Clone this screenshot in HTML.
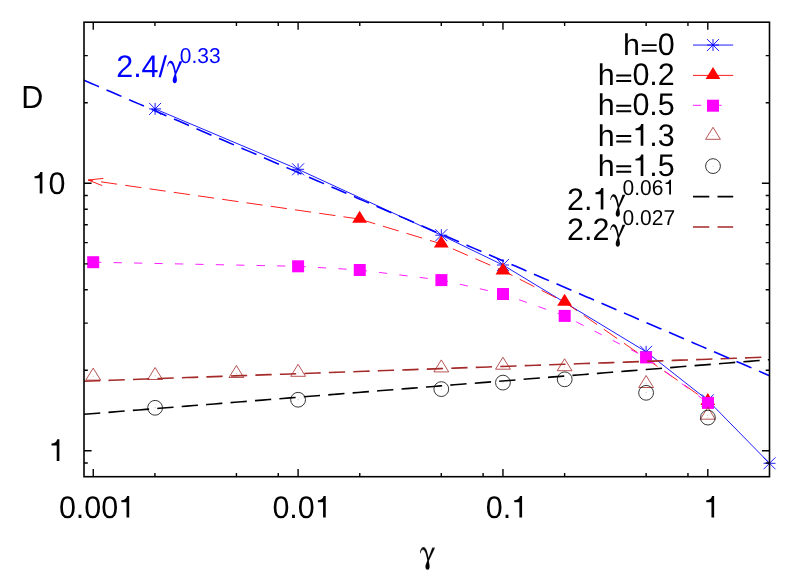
<!DOCTYPE html>
<html><head><meta charset="utf-8"><title>D vs gamma</title>
<style>html,body{margin:0;padding:0;background:#fff;}svg{display:block;}text{font-family:"Liberation Sans", sans-serif;font-kerning:none;text-rendering:geometricPrecision;}</style></head><body>
<svg width="789" height="574" viewBox="0 0 789 574">
<rect x="0" y="0" width="789" height="574" fill="#ffffff"/>
<g opacity="0.999">
<polyline points="155.1,108.9 298.1,169.3 441.3,235.2 502.95,265 646.1,351.8 707.8,400.3 769.5,463.3" fill="none" stroke="#0000ff" stroke-width="0.9"/>
<path d="M149.1,108.9 h12 M155.1,102.9 v12 M149.1,102.9 l12,12 M149.1,114.9 l12,-12" stroke="#0000ff" stroke-width="0.9" fill="none"/>
<path d="M292.1,169.3 h12 M298.1,163.3 v12 M292.1,163.3 l12,12 M292.1,175.3 l12,-12" stroke="#0000ff" stroke-width="0.9" fill="none"/>
<path d="M435.3,235.2 h12 M441.3,229.2 v12 M435.3,229.2 l12,12 M435.3,241.2 l12,-12" stroke="#0000ff" stroke-width="0.9" fill="none"/>
<path d="M496.95,265 h12 M502.95,259 v12 M496.95,259 l12,12 M496.95,271 l12,-12" stroke="#0000ff" stroke-width="0.9" fill="none"/>
<path d="M640.1,351.8 h12 M646.1,345.8 v12 M640.1,345.8 l12,12 M640.1,357.8 l12,-12" stroke="#0000ff" stroke-width="0.9" fill="none"/>
<path d="M701.8,400.3 h12 M707.8,394.3 v12 M701.8,394.3 l12,12 M701.8,406.3 l12,-12" stroke="#0000ff" stroke-width="0.9" fill="none"/>
<path d="M763.5,463.3 h12 M769.5,457.3 v12 M763.5,457.3 l12,12 M763.5,469.3 l12,-12" stroke="#0000ff" stroke-width="0.9" fill="none"/>
<polyline points="359.6,219.1 441.3,243.9 502.95,270.7 564.6,302.1 707.8,401.3" fill="none" stroke="#ff0000" stroke-width="0.9" stroke-dasharray="16.3 8.2"/>
<path d="M359.6,210.81 l-7.4,11.99 h14.8 Z" fill="#ff0000"/>
<path d="M441.3,235.61 l-7.4,11.99 h14.8 Z" fill="#ff0000"/>
<path d="M502.95,262.41 l-7.4,11.99 h14.8 Z" fill="#ff0000"/>
<path d="M564.6,293.81 l-7.4,11.99 h14.8 Z" fill="#ff0000"/>
<path d="M707.8,393.01 l-7.4,11.99 h14.8 Z" fill="#ff0000"/>
<path d="M359.6,219.1 L88.2,180" fill="none" stroke="#ff0000" stroke-width="0.9" stroke-dasharray="16.3 8.2"/>
<path d="M103.4,178.4 L88.2,180 L102.2,185.6" fill="none" stroke="#ff0000" stroke-width="0.9"/>
<polyline points="93.2,262.2 298.1,266.3 359.75,270 441.4,280.1 503,294 564.7,315.9 646.05,357.4 708,402.9" fill="none" stroke="#ff00ff" stroke-width="0.9" stroke-dasharray="8.2 12.24"/>
<rect x="87.2" y="256.2" width="12" height="12" fill="#ff00ff"/>
<rect x="292.1" y="260.3" width="12" height="12" fill="#ff00ff"/>
<rect x="353.75" y="264" width="12" height="12" fill="#ff00ff"/>
<rect x="435.4" y="274.1" width="12" height="12" fill="#ff00ff"/>
<rect x="497" y="288" width="12" height="12" fill="#ff00ff"/>
<rect x="558.7" y="309.9" width="12" height="12" fill="#ff00ff"/>
<rect x="640.05" y="351.4" width="12" height="12" fill="#ff00ff"/>
<rect x="702" y="396.9" width="12" height="12" fill="#ff00ff"/>
<path d="M93.2,368.11 l-7.4,11.99 h14.8 Z" fill="none" stroke="#a52a2a" stroke-width="0.8"/>
<circle cx="93.2" cy="376.4" r="0.45" fill="#a52a2a" opacity="0.6"/>
<path d="M155.1,367.51 l-7.4,11.99 h14.8 Z" fill="none" stroke="#a52a2a" stroke-width="0.8"/>
<circle cx="155.1" cy="375.8" r="0.45" fill="#a52a2a" opacity="0.6"/>
<path d="M236.4,365.51 l-7.4,11.99 h14.8 Z" fill="none" stroke="#a52a2a" stroke-width="0.8"/>
<circle cx="236.4" cy="373.8" r="0.45" fill="#a52a2a" opacity="0.6"/>
<path d="M298.1,364.31 l-7.4,11.99 h14.8 Z" fill="none" stroke="#a52a2a" stroke-width="0.8"/>
<circle cx="298.1" cy="372.6" r="0.45" fill="#a52a2a" opacity="0.6"/>
<path d="M441.3,359.91 l-7.4,11.99 h14.8 Z" fill="none" stroke="#a52a2a" stroke-width="0.8"/>
<circle cx="441.3" cy="368.2" r="0.45" fill="#a52a2a" opacity="0.6"/>
<path d="M502.95,357.21 l-7.4,11.99 h14.8 Z" fill="none" stroke="#a52a2a" stroke-width="0.8"/>
<circle cx="502.95" cy="365.5" r="0.45" fill="#a52a2a" opacity="0.6"/>
<path d="M564.6,358.71 l-7.4,11.99 h14.8 Z" fill="none" stroke="#a52a2a" stroke-width="0.8"/>
<circle cx="564.6" cy="367" r="0.45" fill="#a52a2a" opacity="0.6"/>
<path d="M646.1,375.51 l-7.4,11.99 h14.8 Z" fill="none" stroke="#a52a2a" stroke-width="0.8"/>
<circle cx="646.1" cy="383.8" r="0.45" fill="#a52a2a" opacity="0.6"/>
<path d="M707.8,407.21 l-7.4,11.99 h14.8 Z" fill="none" stroke="#a52a2a" stroke-width="0.8"/>
<circle cx="707.8" cy="415.5" r="0.45" fill="#a52a2a" opacity="0.6"/>
<circle cx="155.1" cy="407.8" r="7.4" fill="none" stroke="#000" stroke-width="0.8"/>
<circle cx="155.1" cy="407.8" r="0.45" fill="#000" opacity="0.5"/>
<circle cx="298.1" cy="399.75" r="7.4" fill="none" stroke="#000" stroke-width="0.8"/>
<circle cx="298.1" cy="399.75" r="0.45" fill="#000" opacity="0.5"/>
<circle cx="441.3" cy="389.1" r="7.4" fill="none" stroke="#000" stroke-width="0.8"/>
<circle cx="441.3" cy="389.1" r="0.45" fill="#000" opacity="0.5"/>
<circle cx="502.95" cy="382.6" r="7.4" fill="none" stroke="#000" stroke-width="0.8"/>
<circle cx="502.95" cy="382.6" r="0.45" fill="#000" opacity="0.5"/>
<circle cx="564.7" cy="379.3" r="7.4" fill="none" stroke="#000" stroke-width="0.8"/>
<circle cx="564.7" cy="379.3" r="0.45" fill="#000" opacity="0.5"/>
<circle cx="646.1" cy="392.8" r="7.4" fill="none" stroke="#000" stroke-width="0.8"/>
<circle cx="646.1" cy="392.8" r="0.45" fill="#000" opacity="0.5"/>
<circle cx="707.9" cy="417.6" r="7.4" fill="none" stroke="#000" stroke-width="0.8"/>
<circle cx="707.9" cy="417.6" r="0.45" fill="#000" opacity="0.5"/>
<polyline points="84,414.31 90.86,413.76 97.71,413.21 104.56,412.67 111.42,412.12 118.28,411.57 125.13,411.03 131.99,410.48 138.84,409.94 145.69,409.39 152.55,408.84 159.41,408.3 166.26,407.75 173.12,407.21 179.97,406.66 186.82,406.11 193.68,405.57 200.53,405.02 207.39,404.48 214.25,403.93 221.1,403.38 227.96,402.84 234.81,402.29 241.66,401.74 248.52,401.2 255.38,400.65 262.23,400.11 269.09,399.56 275.94,399.01 282.79,398.47 289.65,397.92 296.5,397.38 303.36,396.83 310.22,396.28 317.07,395.74 323.93,395.19 330.78,394.65 337.63,394.1 344.49,393.55 351.35,393.01 358.2,392.46 365.06,391.91 371.91,391.37 378.76,390.82 385.62,390.28 392.48,389.73 399.33,389.18 406.19,388.64 413.04,388.09 419.89,387.55 426.75,387 433.61,386.45 440.46,385.91 447.31,385.36 454.17,384.82 461.02,384.27 467.88,383.72 474.74,383.18 481.59,382.63 488.44,382.08 495.3,381.54 502.15,380.99 509.01,380.45 515.87,379.9 522.72,379.35 529.58,378.81 536.43,378.26 543.29,377.72 550.14,377.17 557,376.62 563.85,376.08 570.7,375.53 577.56,374.99 584.41,374.44 591.27,373.89 598.12,373.35 604.98,372.8 611.84,372.25 618.69,371.71 625.54,371.16 632.4,370.62 639.25,370.07 646.11,369.52 652.97,368.98 659.82,368.43 666.67,367.89 673.53,367.34 680.38,366.79 687.24,366.25 694.1,365.7 700.95,365.16 707.8,364.61 714.66,364.06 721.51,363.52 728.37,362.97 735.23,362.42 742.08,361.88 748.93,361.33 755.79,360.79 762.64,360.24 769.5,359.69" fill="none" stroke="#000" stroke-width="1.6" stroke-dasharray="16.3 8.2"/>
<polyline points="84,381.2 90.86,380.96 97.71,380.72 104.56,380.47 111.42,380.23 118.28,379.99 125.13,379.75 131.99,379.51 138.84,379.27 145.69,379.02 152.55,378.78 159.41,378.54 166.26,378.3 173.12,378.06 179.97,377.82 186.82,377.57 193.68,377.33 200.53,377.09 207.39,376.85 214.25,376.61 221.1,376.37 227.96,376.12 234.81,375.88 241.66,375.64 248.52,375.4 255.38,375.16 262.23,374.92 269.09,374.67 275.94,374.43 282.79,374.19 289.65,373.95 296.5,373.71 303.36,373.46 310.22,373.22 317.07,372.98 323.93,372.74 330.78,372.5 337.63,372.26 344.49,372.01 351.35,371.77 358.2,371.53 365.06,371.29 371.91,371.05 378.76,370.81 385.62,370.56 392.48,370.32 399.33,370.08 406.19,369.84 413.04,369.6 419.89,369.36 426.75,369.11 433.61,368.87 440.46,368.63 447.31,368.39 454.17,368.15 461.02,367.91 467.88,367.66 474.74,367.42 481.59,367.18 488.44,366.94 495.3,366.7 502.15,366.45 509.01,366.21 515.87,365.97 522.72,365.73 529.58,365.49 536.43,365.25 543.29,365 550.14,364.76 557,364.52 563.85,364.28 570.7,364.04 577.56,363.8 584.41,363.55 591.27,363.31 598.12,363.07 604.98,362.83 611.84,362.59 618.69,362.35 625.54,362.1 632.4,361.86 639.25,361.62 646.11,361.38 652.97,361.14 659.82,360.9 666.67,360.65 673.53,360.41 680.38,360.17 687.24,359.93 694.1,359.69 700.95,359.44 707.8,359.2 714.66,358.96 721.51,358.72 728.37,358.48 735.23,358.24 742.08,357.99 748.93,357.75 755.79,357.51 762.64,357.27 769.5,357.03" fill="none" stroke="#a52a2a" stroke-width="1.6" stroke-dasharray="16.3 8.2"/>
<polyline points="84,80.23 90.86,83.18 97.71,86.14 104.56,89.09 111.42,92.05 118.28,95 125.13,97.96 131.99,100.91 138.84,103.86 145.69,106.82 152.55,109.77 159.41,112.73 166.26,115.68 173.12,118.64 179.97,121.59 186.82,124.54 193.68,127.5 200.53,130.45 207.39,133.41 214.25,136.36 221.1,139.32 227.96,142.27 234.81,145.23 241.66,148.18 248.52,151.13 255.38,154.09 262.23,157.04 269.09,160 275.94,162.95 282.79,165.91 289.65,168.86 296.5,171.81 303.36,174.77 310.22,177.72 317.07,180.68 323.93,183.63 330.78,186.59 337.63,189.54 344.49,192.5 351.35,195.45 358.2,198.4 365.06,201.36 371.91,204.31 378.76,207.27 385.62,210.22 392.48,213.18 399.33,216.13 406.19,219.08 413.04,222.04 419.89,224.99 426.75,227.95 433.61,230.9 440.46,233.86 447.31,236.81 454.17,239.77 461.02,242.72 467.88,245.67 474.74,248.63 481.59,251.58 488.44,254.54 495.3,257.49 502.15,260.45 509.01,263.4 515.87,266.35 522.72,269.31 529.58,272.26 536.43,275.22 543.29,278.17 550.14,281.13 557,284.08 563.85,287.04 570.7,289.99 577.56,292.94 584.41,295.9 591.27,298.85 598.12,301.81 604.98,304.76 611.84,307.72 618.69,310.67 625.54,313.63 632.4,316.58 639.25,319.53 646.11,322.49 652.97,325.44 659.82,328.4 666.67,331.35 673.53,334.31 680.38,337.26 687.24,340.21 694.1,343.17 700.95,346.12 707.8,349.08 714.66,352.03 721.51,354.99 728.37,357.94 735.23,360.9 742.08,363.85 748.93,366.8 755.79,369.76 762.64,372.71 769.5,375.67" fill="none" stroke="#0000ff" stroke-width="1.6" stroke-dasharray="16.3 8.2"/>
<path d="M693,45.05 H733.2" stroke="#0000ff" stroke-width="0.9" fill="none"/>
<path d="M707,45.05 h12 M713,39.05 v12 M707,39.05 l12,12 M707,51.05 l12,-12" stroke="#0000ff" stroke-width="0.9" fill="none"/>
<path d="M693,75.4 H733.2" stroke="#ff0000" stroke-width="0.9" fill="none" stroke-dasharray="16.3 8.2"/>
<path d="M713,67.11 l-7.4,11.99 h14.8 Z" fill="#ff0000"/>
<path d="M693,105.3 H733.2" stroke="#ff00ff" stroke-width="0.9" fill="none" stroke-dasharray="8.2 12.24"/>
<rect x="707" y="99.7" width="12" height="12" fill="#ff00ff"/>
<path d="M713,127.31 l-7.4,11.99 h14.8 Z" fill="none" stroke="#a52a2a" stroke-width="0.8"/>
<circle cx="713" cy="135.6" r="0.45" fill="#a52a2a" opacity="0.6"/>
<circle cx="713" cy="166.1" r="7.4" fill="none" stroke="#000" stroke-width="0.8"/>
<circle cx="713" cy="166.1" r="0.45" fill="#000" opacity="0.5"/>
<path d="M693,196.6 H733.2" stroke="#000" stroke-width="1.6" fill="none" stroke-dasharray="16.3 8.2"/>
<path d="M693,227 H733.2" stroke="#a52a2a" stroke-width="1.6" fill="none" stroke-dasharray="16.3 8.2"/>
<text x="623.06" y="0" transform="translate(0,54.8) scale(1,0.99)" font-size="30.5" fill="#000">h</text>
<path d="M55,104 H545 V169 H55 Z M55,285 H545 V350 H55 Z" transform="translate(640.03,54.8) scale(0.03050,-0.03050)" fill="#000"/>
<text x="657.84" y="0" transform="translate(0,54.8) scale(1,1.025)" font-size="30.5" fill="#000">0</text>
<text x="597.63" y="0" transform="translate(0,85.1) scale(1,0.99)" font-size="30.5" fill="#000">h</text>
<path d="M55,104 H545 V169 H55 Z M55,285 H545 V350 H55 Z" transform="translate(614.59,85.1) scale(0.03050,-0.03050)" fill="#000"/>
<text x="632.4" y="0" transform="translate(0,85.1) scale(1,1.025)" font-size="30.5" fill="#000">0.2</text>
<text x="597.63" y="0" transform="translate(0,115.4) scale(1,0.99)" font-size="30.5" fill="#000">h</text>
<path d="M55,104 H545 V169 H55 Z M55,285 H545 V350 H55 Z" transform="translate(614.59,115.4) scale(0.03050,-0.03050)" fill="#000"/>
<text x="632.4" y="0" transform="translate(0,115.4) scale(1,1.025)" font-size="30.5" fill="#000">0.5</text>
<text x="597.63" y="0" transform="translate(0,145.7) scale(1,0.99)" font-size="30.5" fill="#000">h</text>
<path d="M55,104 H545 V169 H55 Z M55,285 H545 V350 H55 Z" transform="translate(614.59,145.7) scale(0.03050,-0.03050)" fill="#000"/>
<path d="M359,0 H271 V505 H101 V568 C197,572 262,612 290,709 H359 Z" transform="translate(632.4,145.7) scale(0.03050,-0.03050)" fill="#000"/>
<text x="649.36" y="0" transform="translate(0,145.7) scale(1,1.025)" font-size="30.5" fill="#000">.3</text>
<text x="597.63" y="0" transform="translate(0,176) scale(1,0.99)" font-size="30.5" fill="#000">h</text>
<path d="M55,104 H545 V169 H55 Z M55,285 H545 V350 H55 Z" transform="translate(614.59,176) scale(0.03050,-0.03050)" fill="#000"/>
<path d="M359,0 H271 V505 H101 V568 C197,572 262,612 290,709 H359 Z" transform="translate(632.4,176) scale(0.03050,-0.03050)" fill="#000"/>
<text x="649.36" y="0" transform="translate(0,176) scale(1,1.025)" font-size="30.5" fill="#000">.5</text>
<text x="567" y="0" transform="translate(0,209.6) scale(1,1.025)" font-size="30.5" fill="#000">2.</text>
<path d="M359,0 H271 V505 H101 V568 C197,572 262,612 290,709 H359 Z" transform="translate(592.44,209.6) scale(0.03050,-0.03050)" fill="#000"/>
<path d="M135,216 C137,165 160,121 196,121 C236,121 258,190 279,300 L342,131 L389,131 L283,352 C292,400 303,440 295,470 C287,500 262,506 246,497 C222,484 221,440 238,400 C246,378 254,362 259,345 C245,255 222,166 186,162 C162,160 151,188 147,219 Z" transform="translate(602.3,187.03) scale(0.05924)" fill="#000"/>
<text x="622.6" y="0" transform="translate(0,194.6) scale(1,1.025)" font-size="21.0" fill="#000">0.06</text>
<path d="M359,0 H271 V505 H101 V568 C197,572 262,612 290,709 H359 Z" transform="translate(663.47,194.6) scale(0.02100,-0.02100)" fill="#000"/>
<text x="567" y="0" transform="translate(0,239.6) scale(1,1.025)" font-size="30.5" fill="#000">2.2</text>
<path d="M135,216 C137,165 160,121 196,121 C236,121 258,190 279,300 L342,131 L389,131 L283,352 C292,400 303,440 295,470 C287,500 262,506 246,497 C222,484 221,440 238,400 C246,378 254,362 259,345 C245,255 222,166 186,162 C162,160 151,188 147,219 Z" transform="translate(602.3,217.03) scale(0.05924)" fill="#000"/>
<text x="622.6" y="0" transform="translate(0,224.6) scale(1,1.025)" font-size="21.0" fill="#000">0.027</text>
<text x="116.2" y="0" transform="translate(0,76.8) scale(1,1.025)" font-size="30.5" fill="#0000ff">2.4</text>
<text x="158.6" y="0" transform="translate(0,76.8) scale(1,0.99)" font-size="30.5" fill="#0000ff">/</text>
<path d="M135,216 C137,165 160,121 196,121 C236,121 258,190 279,300 L342,131 L389,131 L283,352 C292,400 303,440 295,470 C287,500 262,506 246,497 C222,484 221,440 238,400 C246,378 254,362 259,345 C245,255 222,166 186,162 C162,160 151,188 147,219 Z" transform="translate(159.3,53.53) scale(0.05924)" fill="#0000ff"/>
<text x="179.8" y="0" transform="translate(0,62.5) scale(1,1.025)" font-size="21.0" fill="#0000ff">0.33</text>
<text x="58.9" y="0" transform="translate(0,517.6) scale(1,1.025)" font-size="30.5" fill="#000">0.00</text>
<path d="M359,0 H271 V505 H101 V568 C197,572 262,612 290,709 H359 Z" transform="translate(118.26,517.6) scale(0.03050,-0.03050)" fill="#000"/>
<text x="272.4" y="0" transform="translate(0,517.6) scale(1,1.025)" font-size="30.5" fill="#000">0.0</text>
<path d="M359,0 H271 V505 H101 V568 C197,572 262,612 290,709 H359 Z" transform="translate(314.8,517.6) scale(0.03050,-0.03050)" fill="#000"/>
<text x="485.7" y="0" transform="translate(0,517.6) scale(1,1.025)" font-size="30.5" fill="#000">0.</text>
<path d="M359,0 H271 V505 H101 V568 C197,572 262,612 290,709 H359 Z" transform="translate(511.14,517.6) scale(0.03050,-0.03050)" fill="#000"/>
<path d="M359,0 H271 V505 H101 V568 C197,572 262,612 290,709 H359 Z" transform="translate(703.2,517.6) scale(0.03050,-0.03050)" fill="#000"/>
<path d="M359,0 H271 V505 H101 V568 C197,572 262,612 290,709 H359 Z" transform="translate(31.47,193.6) scale(0.03050,-0.03050)" fill="#000"/>
<text x="48.44" y="0" transform="translate(0,193.6) scale(1,1.025)" font-size="30.5" fill="#000">0</text>
<path d="M359,0 H271 V505 H101 V568 C197,572 262,612 290,709 H359 Z" transform="translate(48.44,460.9) scale(0.03050,-0.03050)" fill="#000"/>
<text x="21.2" y="0" transform="translate(0,107.8) scale(1,1.045)" font-size="30.5" fill="#000">D</text>
<path d="M135,216 C137,165 160,121 196,121 C236,121 258,190 279,300 L342,131 L389,131 L283,352 C292,400 303,440 295,470 C287,500 262,506 246,497 C222,484 221,440 238,400 C246,378 254,362 259,345 C245,255 222,166 186,162 C162,160 151,188 147,219 Z" transform="translate(412,540.03) scale(0.05924)" fill="#000"/>
<g stroke="#000" fill="none" stroke-linecap="butt">
<rect x="84" y="22.2" width="685.5" height="454.5" stroke-width="1.6"/>
<path d="M93.25,476.7 v-7.6 M93.25,22.2 v7.6 M154.92,476.7 v-3.8 M154.92,22.2 v3.8 M236.43,476.7 v-3.8 M236.43,22.2 v3.8 M278.25,476.7 v-3.8 M278.25,22.2 v3.8 M298.1,476.7 v-7.6 M298.1,22.2 v7.6 M359.77,476.7 v-3.8 M359.77,22.2 v3.8 M441.28,476.7 v-3.8 M441.28,22.2 v3.8 M483.1,476.7 v-3.8 M483.1,22.2 v3.8 M502.95,476.7 v-7.6 M502.95,22.2 v7.6 M564.62,476.7 v-3.8 M564.62,22.2 v3.8 M646.13,476.7 v-3.8 M646.13,22.2 v3.8 M687.95,476.7 v-3.8 M687.95,22.2 v3.8 M707.8,476.7 v-7.6 M707.8,22.2 v7.6 M84,463.04 h3.8 M769.5,463.04 h-3.8 M84,450.8 h7.6 M769.5,450.8 h-7.6 M84,370.27 h3.8 M769.5,370.27 h-3.8 M84,323.17 h3.8 M769.5,323.17 h-3.8 M84,289.75 h3.8 M769.5,289.75 h-3.8 M84,263.83 h3.8 M769.5,263.83 h-3.8 M84,242.64 h3.8 M769.5,242.64 h-3.8 M84,224.74 h3.8 M769.5,224.74 h-3.8 M84,209.22 h3.8 M769.5,209.22 h-3.8 M84,195.54 h3.8 M769.5,195.54 h-3.8 M84,183.3 h7.6 M769.5,183.3 h-7.6 M84,102.77 h3.8 M769.5,102.77 h-3.8 M84,55.67 h3.8 M769.5,55.67 h-3.8" stroke-width="1.4"/>
</g>
</g>
</svg></body></html>
